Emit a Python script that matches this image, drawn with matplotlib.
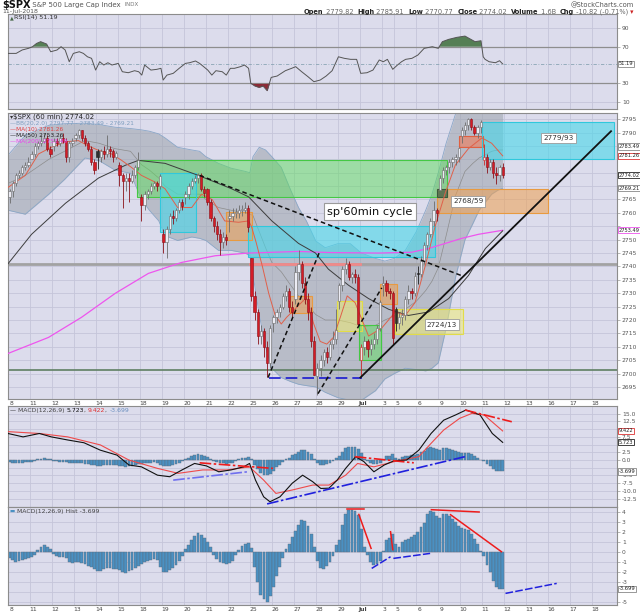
import matplotlib
matplotlib.use('Agg')
import matplotlib.pyplot as plt
import matplotlib.transforms as mtransforms
from matplotlib.patches import Rectangle
import numpy as np

plt.rcParams['font.family'] = ['DejaVu Sans']

# ---------------- data ----------------
day_labels = ['8', '11', '12', '13', '14', '15', '18', '19', '20', '21', '22', '25', '26', '27', '28', '29',
              'Jul', '3', '5', '6', '9', '10', '11', '12', '13', '16', '17', '18']
bars_per_day = [7] * 17 + [4] + [7] * 10

opens = [2766, 2768, 2771, 2774, 2775, 2777, 2778,
         2780, 2782, 2785, 2786, 2787, 2788, 2784,
         2785, 2787, 2786, 2788, 2787, 2781, 2786,
         2788, 2789, 2791, 2788, 2786, 2784, 2779,
         2783, 2781, 2783, 2782, 2784, 2783, 2781,
         2778, 2774, 2772, 2773, 2772, 2774, 2777,
         2766, 2763, 2767, 2768, 2770, 2771, 2770,
         2752, 2749, 2754, 2759, 2758, 2761, 2764,
         2766, 2767, 2770, 2772, 2773, 2774, 2769,
         2769, 2764, 2758, 2755, 2752, 2749, 2751,
         2758, 2759, 2760, 2760, 2761, 2761, 2762,
         2743, 2729, 2723, 2714, 2716, 2710, 2704,
         2719, 2721, 2723, 2725, 2729, 2731, 2725,
         2728, 2738, 2741, 2734, 2728, 2723, 2712,
         2699, 2702, 2705, 2708, 2706, 2711, 2713,
         2727, 2733, 2739, 2741, 2736, 2737, 2736,
         2705, 2710, 2712, 2709, 2711, 2713, 2717,
         2733, 2734, 2731, 2730,
         2724, 2719, 2721, 2722, 2728, 2731, 2730,
         2737.7, 2737, 2742, 2748, 2752, 2757, 2761,
         2768.5, 2773, 2776, 2777, 2779, 2780, 2781,
         2788.6, 2791, 2793, 2795, 2792, 2790, 2792,
         2779.8, 2781, 2777, 2779, 2775, 2774, 2777]
highs = [2769, 2772, 2775, 2776, 2778, 2779, 2781,
         2783, 2786, 2787, 2789, 2790, 2789, 2785,
         2788, 2788, 2789, 2789.8, 2788, 2787, 2788,
         2790, 2791.5, 2791, 2789, 2787, 2785, 2780,
         2784, 2784, 2785, 2789, 2785, 2784, 2783,
         2779, 2775, 2775, 2775, 2776, 2778, 2782.8,
         2767, 2768, 2769, 2771, 2772, 2772, 2774.5,
         2754, 2755, 2760, 2761, 2762, 2765, 2765,
         2768, 2771, 2773, 2774, 2775, 2775, 2770,
         2769.3, 2765, 2759, 2757, 2754, 2753, 2752,
         2761, 2762, 2762, 2763, 2763, 2764.2, 2763,
         2743, 2731, 2724, 2718, 2717, 2712, 2718,
         2722, 2724, 2726, 2730, 2732.9, 2732, 2727,
         2740, 2746, 2742, 2736, 2730, 2725, 2714,
         2704, 2707, 2709, 2710, 2712, 2716, 2724,
         2734, 2740, 2743.3, 2742, 2738, 2739, 2737,
         2711, 2714, 2713, 2713, 2715, 2718, 2727.3,
         2736.6, 2735, 2732, 2731,
         2725, 2723, 2724, 2729, 2733, 2732, 2737.8,
         2740, 2744, 2749, 2753, 2758, 2764.4, 2762,
         2774, 2777, 2778, 2780, 2781, 2782, 2784.7,
         2792, 2794, 2795.6, 2795.5, 2793, 2793, 2794.5,
         2785.9, 2782, 2780, 2780, 2777, 2778, 2778.5]
lows = [2763.6, 2766, 2770, 2773, 2774, 2776, 2777,
        2780, 2781, 2784, 2785, 2786, 2783, 2781,
        2783, 2785, 2785, 2786, 2779, 2779, 2785,
        2787, 2788, 2787, 2785, 2783, 2778, 2774.7,
        2776.5, 2779, 2780, 2781, 2781, 2779, 2780,
        2770, 2762, 2768, 2764, 2771, 2773, 2776,
        2757.1, 2761, 2765, 2767, 2769, 2768, 2769,
        2745, 2743.2, 2752, 2756, 2757, 2760, 2761,
        2763.5, 2765, 2769, 2771, 2771, 2768, 2766,
        2763, 2757, 2753, 2750, 2744.4, 2747, 2748,
        2752.7, 2757, 2758, 2758, 2759, 2760, 2753,
        2727, 2720, 2711, 2711, 2706, 2698.7, 2702,
        2715.6, 2719, 2721, 2724, 2727, 2723, 2721,
        2726, 2735, 2732, 2726, 2720, 2710, 2699.4,
        2692, 2699, 2703, 2704, 2705, 2709, 2711,
        2724, 2731, 2737, 2735, 2734, 2734, 2718,
        2699, 2707, 2706, 2707, 2709, 2711, 2716,
        2729, 2729, 2728, 2711.2,
        2716, 2716.5, 2718, 2720, 2726, 2728, 2729,
        2733.5, 2736, 2741, 2746, 2751, 2755, 2757,
        2768.5, 2771, 2774, 2775, 2777, 2778, 2779,
        2786.2, 2789, 2791, 2791, 2789, 2788, 2790,
        2778, 2775, 2776, 2773, 2770.8, 2772, 2773]
closes = [2768, 2771, 2774, 2775, 2777, 2778, 2779,
          2782, 2785, 2786, 2787, 2788, 2784, 2782,
          2787, 2786, 2788, 2787, 2781, 2786, 2787,
          2789, 2791, 2788, 2786, 2784, 2779, 2776,
          2781, 2783, 2782, 2784, 2783, 2781, 2782.5,
          2774, 2772, 2773, 2772, 2774, 2777, 2779.7,
          2763, 2767, 2768, 2770, 2771, 2770, 2773.7,
          2749, 2754, 2759, 2758, 2761, 2764, 2762.6,
          2767, 2770, 2772, 2773, 2774, 2769, 2767.3,
          2764, 2758, 2755, 2752, 2749, 2751, 2749.8,
          2759, 2760, 2760, 2761, 2761, 2762, 2754.9,
          2729, 2723, 2714, 2716, 2710, 2704, 2717,
          2721, 2723, 2725, 2729, 2731, 2725, 2723,
          2738, 2741, 2734, 2728, 2723, 2712, 2699.6,
          2702, 2705, 2708, 2706, 2711, 2713, 2716.3,
          2733, 2739, 2741, 2736, 2737, 2736, 2718.4,
          2710, 2712, 2709, 2711, 2713, 2717, 2726.7,
          2734, 2731, 2730, 2713.2,
          2719, 2721, 2722, 2728, 2731, 2730, 2736.6,
          2737, 2742, 2748, 2752, 2757, 2761, 2759.8,
          2773, 2776, 2777, 2779, 2780, 2781, 2784.2,
          2791, 2793, 2795, 2792, 2790, 2792, 2793.8,
          2781, 2777, 2779, 2775, 2774, 2777, 2774.0]

bb_x = [0, 5.5, 13, 18, 24.5, 29, 34, 39, 42.5, 45, 48, 50, 54, 58.5, 61, 63, 67, 71, 75.5, 77, 78, 80, 82, 84,
        87, 90, 92.5, 95, 98, 101, 105, 109, 112.5, 117, 120, 123, 126.5, 130, 133, 135, 137, 139.5, 142.5,
        145.5, 148, 150, 152, 154, 156, 157.5]
bb_upper = [2781.5, 2789, 2792.7, 2793.3, 2793.5, 2793, 2792, 2791.5, 2791, 2790.5, 2789.5, 2788, 2784.5, 2783.5,
            2783, 2781, 2778.5, 2776.7, 2775.5, 2775, 2781, 2784.5, 2783.5, 2781, 2777, 2768.5, 2762, 2757, 2749.5,
            2747, 2748.5, 2748.5, 2745, 2743, 2742, 2743, 2746, 2753, 2761, 2767, 2775, 2786, 2797, 2801, 2801,
            2800, 2799.5, 2799, 2798.5, 2797.8]
bb_mid = [2771, 2774, 2780, 2783, 2787, 2786, 2784, 2783, 2778, 2776, 2773, 2770, 2767, 2767, 2767, 2765, 2762,
          2761, 2760, 2759.5, 2759, 2753, 2747, 2741.5, 2738, 2733, 2729, 2726, 2722, 2720, 2720, 2719, 2717.5,
          2718, 2720, 2721.5, 2724, 2727, 2731, 2734.5, 2739.5, 2751.5, 2766.5, 2775.5, 2778.5, 2780.5, 2781.7,
          2783, 2783.5, 2783.5]
bb_lower = [2761, 2759.5, 2767, 2772.5, 2780.5, 2779.5, 2776, 2774.8, 2765, 2761, 2757, 2751.5, 2749.7, 2751,
            2750.5, 2749.7, 2746, 2746, 2745, 2744, 2737, 2722, 2710, 2702, 2698.5, 2697, 2696, 2695.5, 2695,
            2693, 2691, 2690, 2690, 2693.6, 2698, 2700, 2702, 2701.5, 2701, 2702, 2704, 2717, 2736, 2750, 2756,
            2761, 2764, 2767, 2768.5, 2769.2]

ma10_x = [0, 5.5, 9.7, 13.8, 18.2, 22.4, 25.6, 28.7, 33, 36.2, 39.3, 42.5, 47, 50, 54, 58.5, 61.6, 65, 69, 73.4,
          76.6, 77.5, 79, 81, 83, 85, 87, 88.7, 91.9, 95, 97.3, 99.4, 101.5, 103.6, 105.8, 108, 110.5, 114.8,
          119, 123.3, 126.5, 129.6, 132.8, 136, 139.3, 142.4, 146.6, 150.9, 154, 157.5]
ma10_v = [2769.5, 2774, 2782, 2784.5, 2786.5, 2787, 2785, 2783.4, 2782, 2779.6, 2777, 2774, 2771.4, 2769, 2762,
          2762, 2767, 2765, 2757, 2756.5, 2757, 2755, 2749, 2740, 2730, 2722, 2718.5, 2721, 2724.7, 2728.4,
          2718.7, 2712, 2711, 2713.5, 2721, 2729, 2726.5, 2714, 2717, 2723, 2721.7, 2726.5, 2740, 2755, 2767.7,
          2777.8, 2784, 2788, 2786, 2781.3]
ma50_x = [0, 7.5, 18.3, 28.8, 37.4, 41.5, 50, 60.6, 71.2, 76.6, 84, 92.5, 97.9, 102, 108.4, 114.8, 121.2, 127.5,
          133.9, 140.3, 146.6, 152, 157.5]
ma50_v = [2741, 2752, 2763.6, 2773, 2777.8, 2779.6, 2778.5, 2774, 2769, 2766, 2757, 2748.6, 2745, 2739, 2733,
          2728, 2724, 2721.7, 2723, 2728, 2736.6, 2746.7, 2753.3]
ma200_x = [0, 12.9, 23.4, 34.2, 44.7, 55.3, 66, 76.6, 92.5, 102, 118, 128.5, 133.9, 139.2, 144.5, 149.8, 157.5]
ma200_v = [2707.5, 2713.5, 2721, 2730, 2737.4, 2741.5, 2744, 2745, 2745.6, 2745.2, 2745, 2745.3, 2746.7, 2748.6,
           2750.5, 2752, 2753.5]

rsi_x = [0, 2.6, 4.5, 6.5, 7.8, 9.1, 10.4, 12.3, 13.6, 15.6, 16.9, 18.2, 19.5, 20.8, 22.7, 24, 25.3, 26.6, 27.9,
         29.2, 30.5, 31.8, 33.1, 35.1, 36.4, 38.3, 40.3, 41.6, 42.6, 43.5, 45.5, 47.4, 48.7, 49.4, 50.6, 52.6,
         54.5, 56.5, 57.8, 59.7, 61, 62.3, 63.6, 64.9, 66.2, 68.2, 69.5, 70.8, 72.1, 74, 75.3, 76.6, 77.3, 78.6,
         79.9, 81.2, 82.5, 83.8, 85.7, 88.3, 90.3, 91.6, 93.5, 95.5, 97.4, 99.4, 101.3, 103.2, 105.2, 107.1,
         109.1, 111, 112.3, 114.3, 116.2, 118.2, 119.5, 120.8, 122.5, 124, 125.3, 126.6, 128.6, 130.5, 132.5,
         135.1, 137, 138.3, 140.3, 142.9, 145.5, 146.8, 148.7, 150.6, 151.3, 151.9, 153.2, 155.2, 156.5, 157.5]
rsi_v = [62.7, 62.7, 66.4, 68.2, 70, 73.6, 75.5, 72.9, 64.5, 66.4, 70, 66.4, 53.6, 62.7, 64.5, 62.7, 59, 57.3,
         44.5, 53.6, 50, 52.5, 50, 51.8, 42.7, 41.6, 43.8, 42.7, 39, 50, 44.5, 45.3, 46.4, 33.6, 39, 40.9, 46.4,
         51.8, 52.5, 54.4, 51.8, 48.2, 44.5, 39, 43.8, 42.7, 39, 46.4, 46.4, 48.2, 50, 46.4, 30, 27.1, 25.6, 27.1,
         22, 36.5, 38, 43.8, 46.4, 48.2, 42.7, 37.3, 31.8, 33.6, 38, 43.8, 59, 57.3, 56.2, 56.2, 40.9, 41.6,
         44.5, 55.5, 53.6, 56.2, 45.3, 50, 53.6, 56.2, 57.3, 60.9, 68.2, 70, 68.2, 75.5, 78, 80.2, 81.6, 79.1,
         75.5, 76.5, 59, 56.2, 53.6, 52.5, 54.7, 51.2]

macd_x = [0, 4.8, 10, 13.8, 19, 24.2, 29.4, 34.7, 38.5, 42.5, 47.6, 51.5, 55.4, 59.4, 63.2, 67.1, 71, 75, 76.9,
          78.8, 81.4, 83.4, 86.6, 90.5, 93.8, 97, 99.6, 102.2, 104.8, 107.5, 110.7, 113.3, 116.5, 119.8, 123,
          126.9, 130.8, 134.7, 138.7, 142.5, 145.8, 150.3, 154.2, 157.5]
macd_v = [8.6, 7.5, 8.6, 7.5, 6.5, 5.6, 3.2, 1.6, -1.6, -2.2, -4.9, -5.4, -3.2, -1.1, -1.9, -3.8, -3.2, -2.2,
          -1.1, -6.5, -11.9, -13.5, -11.9, -7.5, -4.9, -7.0, -9.2, -9.1, -6.5, -2.7, 1.1, -0.5, -3.8, -1.6, -0.2,
          0.0, 3.2, 8.6, 12.9, 14.6, 16.2, 14.6, 8.6, 5.723]
sig_x = [0, 10, 19, 29.4, 38.5, 47.6, 54.2, 62, 69.7, 76.9, 81.4, 85.3, 90.5, 97, 102.2, 107.5, 111.3, 116.5,
         123, 130.8, 134.7, 138.7, 143.8, 147.7, 151.6, 157.5]
sig_v = [9.2, 8.6, 7.5, 4.9, 0.0, -2.7, -4.3, -3.2, -3.2, -2.2, -6.5, -10.8, -9.7, -8.1, -8.1, -4.9, -1.1, -2.2,
         -0.5, 1.1, 5.4, 9.7, 13.5, 15.1, 14.6, 9.422]
hist = [-0.6, -0.8, -1.0, -0.9, -0.8, -0.7, -0.6, -0.5, -0.3,
        0.2, 0.5, 0.7, 0.5, 0.3,
        -0.2, -0.4, -0.5, -0.5, -0.6,
        -1.0, -1.1, -1.0, -1.0, -1.1, -1.2, -1.4, -1.5, -1.7, -1.9, -1.9, -1.7, -1.6, -1.6, -1.7, -1.7, -1.8,
        -2.0, -2.1,
        -1.9, -1.8, -1.6, -1.4, -1.2, -1.0, -0.9, -0.8, -0.7, -0.8, -1.5, -2.0, -2.0, -1.8, -1.6, -1.3, -0.9,
        -0.4,
        0.3, 0.7, 1.2, 1.6, 1.9, 1.7, 1.4, 1.0, 0.5, -0.3, -0.7, -1.0, -1.1, -1.2, -1.1, -0.9, -0.3, 0.2, 0.6,
        0.8, 0.9, 0.4,
        -1.5, -3.0, -4.3, -4.7, -5.0, -4.4, -3.5, -2.4, -1.5, -0.6, 0.3, 0.8, 1.5, 2.1, 2.7, 3.2, 3.1, 2.6, 1.8,
        0.5,
        -0.9, -1.6, -1.7, -1.4, -1.0, -0.4, 0.7, 1.2, 2.7, 3.8, 4.2, 4.2, 4.1, 3.7, 2.3, 0.5, -0.3, -1.0, -1.3,
        -1.2, -0.9,
        0.1, 1.2, 1.4, 1.8, 0.8, 0.5, 1.0, 1.2, 1.3, 1.5, 1.7, 2.0, 2.5, 2.9, 3.8, 4.1, 4.0, 3.6, 3.4, 3.8, 3.8,
        3.6, 3.3, 3.0, 2.6, 2.4, 2.3, 2.2, 1.8, 1.3, 0.8, 0.1, -0.4, -1.3, -2.0, -2.9, -3.5, -3.7, -3.699]

# annotation boxes: (bar from, bar to, price low, price high, kind)
zones = [(41, 139.8, 2766, 2779.7, 'green'), (48.4, 59.9, 2752.7, 2774.8, 'cyan'),
         (69.4, 77.7, 2749.7, 2760.2, 'orange'), (76.4, 136, 2743.4, 2755, 'cyan'),
         (89.8, 96.8, 2722.8, 2729, 'orange'), (104.8, 112.7, 2716, 2727, 'yellow'),
         (111.8, 118.8, 2705, 2718, 'green'), (118.5, 123.9, 2726, 2733.6, 'orange'),
         (123.2, 145, 2714.6, 2724, 'yellow'), (136.6, 172, 2760, 2769, 'orange'),
         (136.6, 139.8, 2766, 2769, 'dark'), (143.6, 151.3, 2784.5, 2788.6, 'salmon'),
         (151, 193, 2780, 2794, 'cyan')]
zone_labels = [(175.2, 2787.9, '2779/93'), (146.5, 2764.3, '2768/59'), (138.2, 2718.3, '2724/13')]
# trend lines on price panel: ((x0, y0), (x1, y1), kind)
price_lines = [((61, 2774), (145, 2736.3), 'dash'), ((82.8, 2698.5), (99.4, 2746), 'dash'),
               ((98.7, 2692.5), (119, 2732), 'dash'), ((112.2, 2698.5), (192, 2790.5), 'solid')]
macd_lines = [((52.6, -6.5), (76.3, -3.8), 'lightblue'), ((61, -0.9), (84.4, -2.7), 'red'),
              ((82.5, -14.2), (145.5, 1.1), 'blue'), ((110.4, 1.1), (129.2, -0.9), 'red'),
              ((145.5, 16.2), (160.4, 12.4), 'red')]
hist_lines = [((108, 4.27), (113.5, 4.27), 'red'), ((111.7, 3.73), (115.6, 0.33), 'red'),
              ((121.8, 2.0), (122.5, 0.2), 'red'), ((134.8, 4.2), (150, 3.97), 'red'),
              ((140.9, 3.7), (157.1, 0.0), 'red'), ((115.8, -1.67), (121.8, -0.5), 'blue'),
              ((122.7, -0.67), (134.4, -0.17), 'blue'), ((158.4, -4.17), (174.7, -3.17), 'blue')]

# ---------------- figure ----------------
W, H = 640, 614
fig = plt.figure(figsize=(6.4, 6.14), dpi=100)
fig.patch.set_facecolor('white')
BG = '#dcdcec'
GRID = '#c5c5d9'
XMAX = 193.9
day_starts = np.concatenate([[0], np.cumsum(bars_per_day)[:-1]])


def px_axes(x0, y0, x1, y1):
    return fig.add_axes([x0 / W, 1 - y1 / H, (x1 - x0) / W, (y1 - y0) / H])


def style(ax, yticks, ylim, fmt, hidden=()):
    ax.set_facecolor(BG)
    ax.set_xlim(0, XMAX)
    ax.set_ylim(*ylim)
    ax.set_xticks(day_starts)
    ax.tick_params(axis='x', length=0, labelbottom=False)
    ax.yaxis.tick_right()
    ax.set_yticks(yticks)
    ax.set_yticklabels(['' if v in hidden else fmt(v) for v in yticks])
    ax.tick_params(axis='y', length=2, width=0.5, color='#999999', labelsize=4.3,
                   labelcolor='#555555', pad=1.5)
    ax.grid(True, color=GRID, lw=0.6)
    ax.set_axisbelow(True)
    for s in ax.spines.values():
        s.set_color('#8c8c8c')
        s.set_linewidth(0.8)


def x_labels(ax, ypos):
    tr = mtransforms.blended_transform_factory(ax.transData, ax.transAxes)
    for st, lab in zip(day_starts, day_labels):
        ax.text(st + 1.0, ypos, lab, transform=tr, ha='center', va='top', fontsize=4.3,
                color='#444444', fontweight='bold' if lab == 'Jul' else 'normal', clip_on=False)


def value_box(ax, y, s, ec, tc='#222222'):
    ax.text(1.003, y, s, transform=ax.get_yaxis_transform(), fontsize=3.7, color=tc, va='center',
            ha='left', clip_on=False, zorder=10,
            bbox=dict(boxstyle='square,pad=0.12', fc='white', ec=ec, lw=0.6))


def seq_text(x_px, y_px, pieces, align='left'):
    r = fig.canvas.get_renderer()
    objs = [fig.text(0, 1 - y_px / H, s, va='center', ha='left', **kw) for s, kw in pieces]
    widths = [t.get_window_extent(renderer=r).width for t in objs]
    x = x_px - sum(widths) if align == 'right' else x_px
    for t, w in zip(objs, widths):
        t.set_x(x / W)
        x += w


ax_r = px_axes(8, 14, 617, 109)
ax_p = px_axes(8, 113, 617, 399)
ax_m = px_axes(8, 406, 617, 507)
ax_h = px_axes(8, 507, 617, 605)

# ---- RSI ----
style(ax_r, [10, 30, 70, 90], (2, 105.7), lambda v: '%d' % v)
rx = np.array(rsi_x)
rv = np.array(rsi_v)
ax_r.axhline(70, color='#8e8e8e', lw=0.9, zorder=2)
ax_r.axhline(30, color='#8e8e8e', lw=0.9, zorder=2)
ax_r.axhline(51.19, color='#8aa4b4', lw=0.6, ls=(0, (4, 2, 1, 2)), zorder=2)
ax_r.fill_between(rx, rv, 70, where=rv >= 70, interpolate=True, color='#557f55', zorder=3, lw=0)
ax_r.fill_between(rx, rv, 30, where=rv <= 30, interpolate=True, color='#8c2a36', zorder=3, lw=0)
ax_r.plot(rx, rv, color='#555555', lw=0.7, zorder=4)
value_box(ax_r, 51.19, '51.19', '#888888')

# ---- Price ----
style(ax_p, list(range(2695, 2800, 5)), (2690.5, 2797.3), lambda v: '%d' % v,
      hidden=(2785, 2780, 2775, 2770, 2755))
ax_p.fill_between(bb_x, bb_lower, bb_upper, color='#9ca3ab', alpha=0.55, lw=0, zorder=1)
ax_p.plot(bb_x, bb_upper, color='#8aa6c6', lw=0.6, zorder=1.2)
ax_p.plot(bb_x, bb_lower, color='#8aa6c6', lw=0.6, zorder=1.2)
ax_p.plot(bb_x, bb_mid, color='#8c8c8c', lw=0.5, zorder=1.2)

zone_style = {'green': ('#5fdc5f', '#44c844', 0.5), 'cyan': ('#48d8ea', '#30c8dc', 0.6),
              'orange': ('#f0a050', '#e89a40', 0.55), 'yellow': ('#f2ee6c', '#e2dc48', 0.5),
              'salmon': ('#f07a58', '#e06040', 0.6), 'dark': ('#4c6a50', '#3a5a3e', 0.85)}
for x0, x1, y0, y1, kind in zones:
    fc, ec, a = zone_style[kind]
    ax_p.add_patch(Rectangle((x0, y0), x1 - x0, y1 - y0, facecolor=fc, alpha=a, lw=0, zorder=2))
    ax_p.add_patch(Rectangle((x0, y0), x1 - x0, y1 - y0, facecolor='none', edgecolor=ec, lw=0.8, zorder=2.1))

ax_p.axhline(2741, color='#a2a2a2', lw=2.0, zorder=2.2)
ax_p.plot([77, 112], [2741, 2741], color='#ef8a8a', lw=2.0, zorder=2.3)
ax_p.axhline(2701.5, color='#5f7f62', lw=1.2, zorder=2.2)
ax_p.plot([83, 112.8], [2698.5, 2698.5], color='#1a1ad0', lw=1.2, ls=(0, (7, 3)), zorder=5)

ax_p.plot(ma200_x, ma200_v, color='#ee55ee', lw=0.9, zorder=3)
ax_p.plot(ma50_x, ma50_v, color='#3c3c3c', lw=0.7, zorder=3)
ax_p.plot(ma10_x, ma10_v, color='#e0604a', lw=0.7, zorder=3)

o = np.array(opens, float)
c = np.array(closes, float)
hh = np.array(highs, float)
ll = np.array(lows, float)
prev = np.concatenate([[o[0]], c[:-1]])
xi = np.arange(len(c)) + 0.5
faces, edges = [], []
for k in range(len(c)):
    red = c[k] < prev[k]
    if c[k] < o[k]:
        faces.append('#d41c26' if red else '#2e2e2e')
        edges.append('#8a1018' if red else '#1e1e1e')
    else:
        faces.append('#f3e6ea' if red else '#ececf4')
        edges.append('#cc2a2a' if red else '#6c6c6c')
ax_p.vlines(xi, ll, hh, colors=edges, lw=0.6, zorder=4)
ax_p.bar(xi, np.maximum(np.abs(c - o), 0.3), bottom=np.minimum(o, c), width=0.72, color=faces,
         edgecolor=edges, linewidth=0.4, zorder=4.1)

for (x0, y0), (x1, y1), kind in price_lines:
    if kind == 'dash':
        ax_p.plot([x0, x1], [y0, y1], color='#111111', lw=1.1, ls=(0, (3, 2)), zorder=5)
    else:
        ax_p.plot([x0, x1], [y0, y1], color='#111111', lw=1.3, zorder=5)

for x, y, s in zone_labels:
    ax_p.text(x, y, s, fontsize=5.2, ha='center', va='center', color='#333333', zorder=6,
              bbox=dict(boxstyle='square,pad=0.3', fc='white', ec='#9a9a9a', lw=0.6))
ax_p.text(115.3, 2760.4, "sp'60min cycle", fontsize=8.2, ha='center', va='center', color='#111111',
          zorder=6, bbox=dict(boxstyle='square,pad=0.3', fc='white', ec='#9a9a9a', lw=0.8))

value_box(ax_p, 2784.8, '2783.49', '#888888')
value_box(ax_p, 2781.26, '2781.26', '#dd3333')
value_box(ax_p, 2774.02, '2774.02', '#222222')
value_box(ax_p, 2769.21, '2769.21', '#888888')
value_box(ax_p, 2753.49, '2753.49', '#ee55ee')
x_labels(ax_p, -0.006)

# ---- MACD ----
style(ax_m, [-12.5, -10, -7.5, -5, -2.5, 0, 2.5, 5, 7.5, 10, 12.5, 15], (-15.2, 17.5),
      lambda v: '%.1f' % v, hidden=(10, 5, -2.5))
ax_m.bar(np.arange(len(hist)) + 0.5, hist, width=0.9, color='#4a90c2', edgecolor='#5c6c7c',
         linewidth=0.3, zorder=2)
ax_m.plot(sig_x, sig_v, color='#ee4a4a', lw=0.8, zorder=3)
ax_m.plot(macd_x, macd_v, color='#111111', lw=0.8, zorder=3.1)
line_col = {'red': '#ee1c1c', 'blue': '#2020dd', 'lightblue': '#6f6fee'}
for (x0, y0), (x1, y1), kind in macd_lines:
    ax_m.plot([x0, x1], [y0, y1], color=line_col[kind], lw=1.2, ls=(0, (7, 1.5, 1.5, 1.5)), zorder=4)
value_box(ax_m, 9.422, '9.422', '#dd3333')
value_box(ax_m, 5.723, '5.723', '#222222')
value_box(ax_m, -3.699, '-3.699', '#888888')

# ---- Histogram ----
style(ax_h, [-5, -4, -3, -2, -1, 0, 1, 2, 3, 4], (-5.33, 4.47), lambda v: '%d' % v, hidden=(-4,))
ax_h.bar(np.arange(len(hist)) + 0.5, hist, width=0.9, color='#4a90c2', edgecolor='#5c6c7c',
         linewidth=0.3, zorder=2)
for (x0, y0), (x1, y1), kind in hist_lines:
    ls = '-' if kind == 'red' else (0, (5, 1.5))
    ax_h.plot([x0, x1], [y0, y1], color=line_col[kind], lw=1.1, ls=ls, zorder=4)
value_box(ax_h, -3.699, '-3.699', '#888888')
x_labels(ax_h, -0.02)

# ---- header & legends ----
fig.canvas.draw()
seq_text(2, 5, [('$SPX', dict(fontsize=7, fontweight='bold', color='#111111')),
                (' S&P 500 Large Cap Index', dict(fontsize=5, color='#555555')),
                ('  INDX', dict(fontsize=4, color='#777777'))])
fig.text(2 / W, 1 - 11.5 / H, '11-Jul-2018', fontsize=4.5, color='#555555', va='center')
fig.text(634 / W, 1 - 5 / H, '@StockCharts.com', fontsize=4.8, color='#555555', va='center', ha='right')
B = dict(fontsize=4.8, fontweight='bold', color='#222222')
N = dict(fontsize=4.8, color='#666666')
seq_text(634, 12, [('Open', B), (' 2779.82  ', N), ('High', B), (' 2785.91  ', N), ('Low', B),
                   (' 2770.77  ', N), ('Close', B), (' 2774.02  ', N), ('Volume', B), (' 1.6B  ', N),
                   ('Chg', B), (' -10.82 (-0.71%)', N), (' \u25be', dict(fontsize=4.8, color='#cc2222'))],
         align='right')

seq_text(10, 17.5, [('\u25b2', dict(fontsize=3.5, color='#446644')),
                    ('RSI(14) 51.19', dict(fontsize=4.6, color='#333333'))])
seq_text(10, 117, [('\u25be', dict(fontsize=4.5, color='#333333')),
                   ('$SPX (60 min) 2774.02', dict(fontsize=5.0, color='#222222'))])
seq_text(10, 123.5, [('\u2014', dict(fontsize=4.3, color='#7f9fc0')),
                     ('BB(20,2.0) 2797.77 - 2783.49 - 2769.21', dict(fontsize=4.2, color='#7f9fc0'))])
seq_text(10, 129.5, [('\u2014', dict(fontsize=4.3, color='#e04040')),
                     ('MA(10) 2781.26', dict(fontsize=4.2, color='#e04040'))])
seq_text(10, 135.5, [('\u2014', dict(fontsize=4.3, color='#111111')),
                     ('MA(50) 2753.26', dict(fontsize=4.2, color='#222222'))])
seq_text(10, 141.5, [('\u2014', dict(fontsize=4.3, color='#ee44ee')),
                     ('MA(200) 2753.49', dict(fontsize=4.2, color='#ee44ee'))])
seq_text(10, 410.5, [('\u2014 ', dict(fontsize=4.3, color='#111111')),
                     ('MACD(12,26,9) ', dict(fontsize=4.4, color='#444444')),
                     ('5.723', dict(fontsize=4.4, color='#111111')), (', ', dict(fontsize=4.4, color='#444444')),
                     ('9.422', dict(fontsize=4.4, color='#e03030')), (', ', dict(fontsize=4.4, color='#444444')),
                     ('-3.699', dict(fontsize=4.4, color='#6a8fbf'))])
seq_text(10, 511.5, [('\u25ac ', dict(fontsize=4.0, color='#4a90c2')),
                     ('MACD(12,26,9) Hist -3.699', dict(fontsize=4.4, color='#444444'))])

fig.savefig('out.png', dpi=100, facecolor='white')
